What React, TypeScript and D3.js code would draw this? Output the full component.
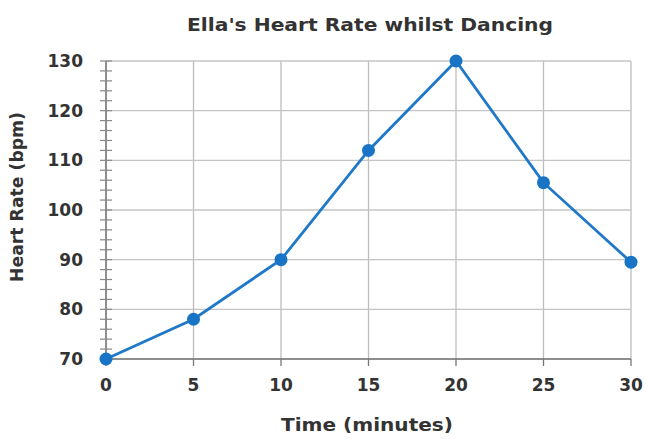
import React from "react";
import * as d3 from "d3";

const times = [0, 5, 10, 15, 20, 25, 30];
const heartRates = [70, 78, 90, 112, 130, 105.5, 89.5];
const xTicks = [0, 5, 10, 15, 20, 25, 30];
const yTicks = [70, 80, 90, 100, 110, 120, 130];
const yMinorTicks = d3.range(70, 131, 2);

const W = 646, H = 439;
const M = { left: 106, right: 631, top: 61, bottom: 359 };
const FONT = "'DejaVu Sans', sans-serif";

export default function App() {
  const x = d3.scaleLinear().domain([0, 30]).range([M.left, M.right]);
  const y = d3.scaleLinear().domain([70, 130]).range([M.bottom, M.top]);
  const line = d3.line<number>().x((_, i) => x(times[i])).y((d) => y(d));
  const data = heartRates;
  return (
    <svg width={W} height={H} style={{ position: "absolute", left: 0, top: 0, background: "#fff" }}>
      <rect x={0} y={0} width={W} height={H} fill="#fff" />
      <text x={370} y={31} textAnchor="middle" fontFamily={FONT} fontWeight="bold" fontSize={17} fill="#333" textLength={366} lengthAdjust="spacingAndGlyphs">
        Ella's Heart Rate whilst Dancing
      </text>
      {/* grid */}
      {xTicks.map((t) => (
        <line key={"gx" + t} x1={x(t)} x2={x(t)} y1={M.top} y2={M.bottom} stroke="#bdbdbd" strokeWidth={1.3} />
      ))}
      {yTicks.map((t) => (
        <line key={"gy" + t} x1={M.left} x2={M.right} y1={y(t)} y2={y(t)} stroke="#c4c4c4" strokeWidth={1.3} />
      ))}
      {/* axes */}
      <line x1={M.left} x2={M.left} y1={M.top} y2={M.bottom} stroke="#777" strokeWidth={1.5} />
      <line x1={M.left} x2={M.right} y1={M.bottom} y2={M.bottom} stroke="#777" strokeWidth={1.5} />
      {yMinorTicks.map((t) => (
        <line key={"my" + t} x1={M.left - 6} x2={M.left + 6} y1={y(t)} y2={y(t)} stroke="#888" strokeWidth={1.2} />
      ))}
      {xTicks.map((t) => (
        <line key={"tx" + t} x1={x(t)} x2={x(t)} y1={M.bottom} y2={M.bottom + 7} stroke="#777" strokeWidth={1.3} />
      ))}
      {yTicks.map((t) => (
        <text key={"ly" + t} x={83} y={y(t) + 6} textAnchor="end" fontFamily={FONT} fontWeight="bold" fontSize={17} fill="#333">
          {t}
        </text>
      ))}
      {xTicks.map((t) => (
        <text key={"lx" + t} x={x(t)} y={391} textAnchor="middle" fontFamily={FONT} fontWeight="bold" fontSize={17} fill="#333">
          {t}
        </text>
      ))}
      <text x={367} y={431} textAnchor="middle" fontFamily={FONT} fontWeight="bold" fontSize={17} fill="#333" textLength={172} lengthAdjust="spacingAndGlyphs">
        Time (minutes)
      </text>
      <text transform={`translate(23,${197}) rotate(-90)`} textAnchor="middle" fontFamily={FONT} fontWeight="bold" fontSize={17} fill="#333" textLength={170} lengthAdjust="spacingAndGlyphs">
        Heart Rate (bpm)
      </text>
      <path d={line(data) || ""} fill="none" stroke="#1f78c8" strokeWidth={2.8} />
      {data.map((d, i) => (
        <circle key={i} cx={x(times[i])} cy={y(d)} r={6.5} fill="#1a74c6" />
      ))}
    </svg>
  );
}
